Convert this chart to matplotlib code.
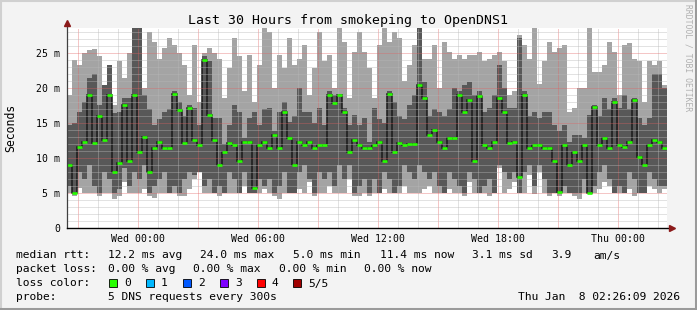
import numpy as np
import matplotlib
matplotlib.use("Agg")
import matplotlib.pyplot as plt
from matplotlib.patches import Rectangle
from matplotlib.lines import Line2D

plt.rcParams['font.family'] = ['DejaVu Sans Mono']

# ---------------- data (ms), 120 steps of 15 min, hours relative to Wed 00:00 -------------
t_start, t_end = -3.57, 26.43

ping_max = [19.0,24.0,23.3,25.0,25.4,25.5,24.5,19.0,23.3,17.5,23.8,21.4,25.0,29.0,29.0,20.0,28.0,26.6,24.2,25.7,
            27.1,26.1,25.0,23.3,19.0,26.1,18.0,25.0,25.7,25.0,24.2,18.5,22.8,27.1,24.5,19.5,24.7,18.0,23.3,28.5,
            28.0,20.0,24.7,22.8,27.1,23.3,24.2,26.1,19.0,22.8,28.0,23.8,24.7,20.0,28.5,26.6,18.5,25.2,28.0,25.2,
            22.8,18.5,26.1,28.5,26.6,28.0,27.1,21.0,23.3,26.1,29.0,24.2,24.2,26.1,20.0,26.6,25.2,24.2,24.7,24.2,
            24.7,24.7,25.2,23.8,24.2,24.7,25.2,23.8,19.0,19.5,27.6,26.1,24.2,28.5,20.5,23.8,26.6,25.2,25.7,26.1,
            16.6,17.1,20.0,20.0,28.5,22.3,22.3,23.3,26.6,25.2,19.0,26.1,26.4,24.2,23.8,18.0,23.8,23.3,23.8,20.4]

ping_p4 = [14.7,15.0,16.6,18.0,21.4,22.0,17.5,20.4,23.3,16.4,16.5,18.5,18.5,29.0,29.0,19.0,17.0,14.7,15.6,16.6,
           17.0,19.5,18.0,16.0,17.6,17.1,14.7,24.5,23.8,15.7,15.7,12.0,14.7,17.5,16.5,12.8,15.7,16.6,14.7,17.0,
           17.1,13.8,16.6,18.0,15.2,16.0,20.0,16.5,16.6,15.0,17.1,14.7,19.5,19.0,19.0,17.1,14.7,16.1,14.7,15.7,
           12.3,17.1,15.5,15.0,19.5,18.0,16.0,15.5,17.5,19.0,29.0,20.9,16.0,17.0,16.6,16.0,17.0,20.0,19.5,20.4,
           20.9,19.0,19.5,16.6,17.1,19.0,23.3,20.0,17.1,17.1,27.1,19.5,16.0,16.5,15.7,16.6,16.6,14.7,13.8,14.7,
           12.3,13.3,13.3,12.8,16.1,17.6,16.0,18.5,17.0,18.5,17.1,19.0,17.0,18.5,15.7,14.7,15.7,22.0,22.0,20.0]

median = [9.0,5.0,11.5,12.3,19.0,12.1,16.0,12.6,19.0,8.0,9.3,17.6,9.5,19.0,10.9,13.0,8.0,11.4,12.3,11.4,
          11.4,19.2,16.9,12.1,17.1,12.6,11.9,24.0,16.1,12.6,9.0,10.9,12.1,11.9,9.5,12.3,12.3,5.7,11.9,12.3,
          11.4,13.3,11.4,16.6,12.8,9.0,12.3,11.9,12.3,11.4,11.9,11.9,19.0,17.8,19.0,16.6,10.9,12.6,11.9,11.4,
          11.4,11.9,12.3,9.5,19.2,10.9,12.1,11.9,12.0,12.0,20.4,18.5,13.3,14.0,12.3,11.4,12.9,12.9,19.0,16.6,
          18.3,9.5,18.8,11.9,11.4,12.3,18.5,16.6,12.1,12.3,7.3,19.0,11.4,11.9,11.9,11.4,11.4,9.5,5.2,11.9,
          9.0,10.9,9.5,11.9,5.0,17.3,11.9,12.8,11.4,18.0,11.9,11.6,12.3,18.3,10.2,9.0,11.9,12.6,12.3,11.4]

ping_p2 = [6.0,5.0,8.0,7.0,9.0,6.0,5.0,8.0,7.0,5.0,5.5,8.5,6.0,8.0,7.0,9.0,5.0,6.0,7.0,8.0,
           5.0,6.0,5.0,7.0,8.0,7.5,8.0,6.0,7.0,5.0,6.0,5.0,8.0,7.0,5.0,8.0,5.0,5.0,7.0,6.0,
           7.0,5.0,6.0,8.0,5.0,5.0,8.0,9.0,7.0,5.0,8.0,7.0,8.0,6.0,9.0,7.0,9.0,5.0,6.0,7.0,
           5.0,7.0,5.0,8.0,7.0,5.0,6.0,9.0,8.0,7.0,9.0,8.0,7.0,8.0,6.0,5.0,8.0,7.0,6.0,5.0,
           8.0,7.0,5.0,6.0,7.0,5.0,9.0,8.0,7.0,8.0,5.0,8.0,9.0,6.0,9.0,7.0,5.0,5.0,5.0,6.0,
           5.0,5.0,5.0,7.0,5.0,6.0,8.0,9.0,7.0,5.0,6.0,5.0,8.0,7.0,5.0,5.0,8.0,7.0,6.0,6.0]

ping_min = [5.0,4.6,5.7,5.0,5.0,5.0,4.5,5.0,5.0,4.2,4.5,6.5,5.0,5.0,5.0,5.5,4.5,4.3,5.0,5.0,
            5.0,5.0,4.5,4.5,5.5,7.0,8.0,5.0,5.0,5.0,4.5,5.0,5.0,5.0,5.5,6.0,5.0,5.0,5.0,5.5,
            5.0,4.5,4.2,5.0,5.0,5.0,5.5,5.0,6.5,4.5,5.0,5.0,6.0,5.0,5.0,5.0,7.0,4.5,4.5,5.0,
            4.5,5.0,5.0,5.5,5.0,5.0,5.0,6.0,5.0,5.0,5.0,5.5,6.0,5.0,5.0,5.0,5.5,5.0,5.0,4.5,
            6.5,5.0,5.0,5.0,4.5,5.0,8.5,5.0,5.5,6.5,5.0,5.0,7.5,4.8,8.0,5.0,4.5,5.0,4.5,5.0,
            5.0,4.5,4.2,5.0,5.0,5.0,5.5,6.5,6.0,5.0,5.0,5.0,5.5,4.5,5.0,5.0,6.0,5.5,5.0,5.5]

x_tick_hours = [0, 6, 12, 18, 24]
x_tick_labels = ["Wed 00:00", "Wed 06:00", "Wed 12:00", "Wed 18:00", "Thu 00:00"]
y_tick_values = [0, 5, 10, 15, 20, 25]
y_tick_labels = ["0", "5 m", "10 m", "15 m", "20 m", "25 m"]

loss_labels = ["0", "1", "2", "3", "4", "5/5"]
loss_colors = ["#26ff00", "#00b8ff", "#0059ff", "#7e00ff", "#ff0000", "#a10000"]

# ---------------- figure ----------------
W, H = 697, 310
fig = plt.figure(figsize=(W / 100, H / 100), dpi=100, facecolor="#f3f3f3")

def fx(x):
    return x / W

def fy(y):
    return 1 - y / H

ax = fig.add_axes([fx(67), fy(228), 600 / W, 200 / H])
ax.set_facecolor("white")

edges = np.linspace(t_start, t_end, len(median) + 1)
ax.stairs(ping_max, edges, baseline=ping_min, fill=True, color="#a4a4a4", lw=0, zorder=1)
ax.stairs(ping_p4, edges, baseline=ping_p2, fill=True, color="#585858", lw=0, zorder=1.1)
ax.stairs(median, edges, baseline=None, color="#1a1a1a", lw=1.1, zorder=2)
ax.hlines(median, edges[:-1], edges[1:], colors=loss_colors[0], lw=1.9, zorder=3)

ax.set_xlim(t_start, t_end)
ax.set_ylim(0, 28.57)

# grid
ax.set_yticks(y_tick_values)
ax.set_yticklabels(y_tick_labels)
ax.set_yticks(np.arange(1, 29), minor=True)
major_x = np.arange(-3, 25, 3)
ax.set_xticks(major_x)
ax.set_xticklabels([x_tick_labels[x_tick_hours.index(h)] if h in x_tick_hours else "" for h in major_x])
ax.set_xticks(np.arange(-3, 27, 1), minor=True)
ax.set_axisbelow(False)
ax.grid(which="minor", color="#b8b8b8", linestyle=(0, (1, 1)), lw=0.72, alpha=0.8)
ax.grid(which="major", color="#e06060", linestyle=(0, (1, 1)), lw=0.72, alpha=0.7)
ax.tick_params(which="both", length=0)
ax.tick_params(axis="y", pad=5, labelsize=7.1)
ax.tick_params(axis="x", pad=4, labelsize=7.1)

for s in ax.spines.values():
    s.set_visible(False)
# axis lines with arrows
ax.add_line(Line2D([0, 0], [0, 1.02], transform=ax.transAxes, color="#404040", lw=0.9, clip_on=False, zorder=4))
ax.add_line(Line2D([0, 1.005], [0, 0], transform=ax.transAxes, color="#000000", lw=1.0, clip_on=False, zorder=4))
ax.plot([0], [1.025], marker="^", ms=4.5, color="#8b1a1a", transform=ax.transAxes, clip_on=False, zorder=5)
ax.plot([1.008], [0], marker=">", ms=4.5, color="#8b1a1a", transform=ax.transAxes, clip_on=False, zorder=5)

# title / labels
fig.text(fx(348), fy(24), "Last 30 Hours from smokeping to OpenDNS1", ha="center", va="baseline", fontsize=9.5)
fig.text(fx(11), fy(128), "Seconds", rotation=90, ha="center", va="center", fontsize=8.3)
fig.text(fx(688), fy(58), "RRDTOOL / TOBI OETIKER", rotation=270, ha="center", va="center",
         fontsize=5.8, color="#b0b0b0")

fs = 8.1
rows = [258.5, 272, 286.5, 300.5]
fig.text(fx(16), fy(rows[0]), "median rtt:", va="baseline", fontsize=fs)
for x, s in [(107.5, "12.2 ms avg"), (200, "24.0 ms max"), (293, "5.0 ms min"), (380, "11.4 ms now"),
             (472, "3.1 ms sd"), (551, "3.9"), (593, "am/s")]:
    fig.text(fx(x), fy(rows[0]), s, va="baseline", fontsize=fs)
fig.text(fx(16), fy(rows[1]), "packet loss:", va="baseline", fontsize=fs)
for x, s in [(107.5, "0.00 % avg"), (193, "0.00 % max"), (279, "0.00 % min"), (364, "0.00 % now")]:
    fig.text(fx(x), fy(rows[1]), s, va="baseline", fontsize=fs)
fig.text(fx(16), fy(rows[2]), "loss color:", va="baseline", fontsize=fs)
box_x = [109, 146, 183, 220, 257, 293]
for bx, lab, col in zip(box_x, loss_labels, loss_colors):
    fig.patches.append(Rectangle((fx(bx), fy(286.5)), 8 / W, 8 / H, transform=fig.transFigure,
                                 facecolor=col, edgecolor="black", lw=0.6))
    fig.text(fx(bx + 15), fy(rows[2]), lab, va="baseline", fontsize=fs)
fig.text(fx(16), fy(rows[3]), "probe:", va="baseline", fontsize=fs)
fig.text(fx(107.5), fy(rows[3]), "5 DNS requests every 300s", va="baseline", fontsize=fs)
fig.text(fx(680), fy(rows[3]), "Thu Jan  8 02:26:09 2026", ha="right", va="baseline", fontsize=fs)

# frame shading
fig.add_artist(Line2D([0, 1], [fy(1), fy(1)], color="#d0d0d0", lw=1.5, transform=fig.transFigure))
fig.add_artist(Line2D([fx(1), fx(1)], [0, 1], color="#d0d0d0", lw=1.5, transform=fig.transFigure))
fig.add_artist(Line2D([0, 1], [fy(308.5), fy(308.5)], color="#9a9a9a", lw=2.2, transform=fig.transFigure))
fig.add_artist(Line2D([fx(695.5), fx(695.5)], [0, 1], color="#9a9a9a", lw=2.2, transform=fig.transFigure))

fig.savefig("out.png", dpi=100, facecolor=fig.get_facecolor())
